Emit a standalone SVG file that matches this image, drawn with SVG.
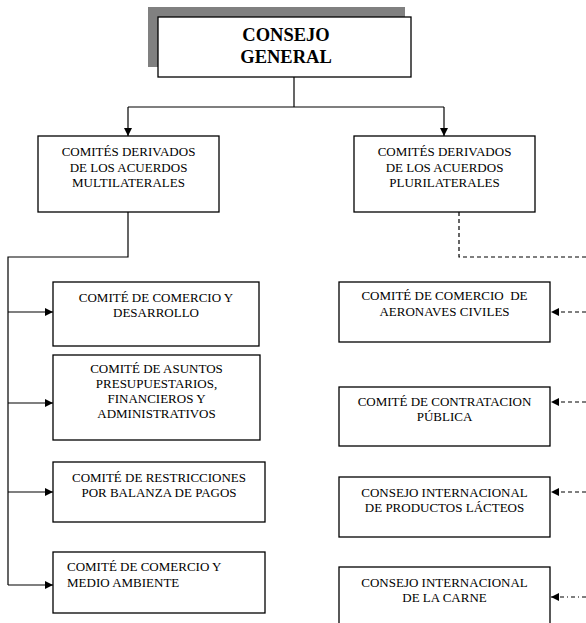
<svg xmlns="http://www.w3.org/2000/svg" width="586" height="623" viewBox="0 0 586 623">
<defs>
<style>
.box{fill:#fff;stroke:#000;stroke-width:1.3}
.t{font-family:"Liberation Serif","Times New Roman",serif;font-size:13px;fill:#000;text-anchor:middle}
.tl{font-family:"Liberation Serif","Times New Roman",serif;font-size:13px;fill:#000}
.title{font-family:"Liberation Serif","Times New Roman",serif;font-size:18.5px;font-weight:bold;fill:#000;text-anchor:middle}
.ln{fill:none;stroke:#000;stroke-width:1.2}
.dash{fill:none;stroke:#000;stroke-width:1.2;stroke-dasharray:4,3}
.dashdot{fill:none;stroke:#000;stroke-width:1.2;stroke-dasharray:4,3,1,3}
</style>
<marker id="arr" viewBox="0 0 10 10" refX="10" refY="5" markerWidth="8" markerHeight="8" markerUnits="userSpaceOnUse" orient="auto">
<path d="M0,0 L10,5 L0,10 z" fill="#000"/>
</marker>
</defs>
<g id="connectors">
<path class="ln" d="M294,77 V107"/>
<path class="ln" d="M128,107 H444"/>
<path class="ln" d="M128,107 V136" marker-end="url(#arr)"/>
<path class="ln" d="M444,107 V136" marker-end="url(#arr)"/>
<path class="ln" d="M128,212 V257 H8 V585"/>
<path class="ln" d="M8,312 H53" marker-end="url(#arr)"/>
<path class="ln" d="M8,403 H53" marker-end="url(#arr)"/>
<path class="ln" d="M8,492 H53" marker-end="url(#arr)"/>
<path class="ln" d="M8,585 H53" marker-end="url(#arr)"/>
<path class="dash" d="M459,212 V257 H586"/>
<path class="dash" d="M586,312 H551" marker-end="url(#arr)"/>
<path class="dash" d="M586,402 H551" marker-end="url(#arr)"/>
<path class="dash" d="M586,492 H551" marker-end="url(#arr)"/>
<path class="dashdot" d="M586,597 H551" marker-end="url(#arr)"/>
</g>
<g id="consejo-general">
<rect x="148" y="7" width="257" height="60" fill="#808080"/>
<rect class="box" x="158" y="17" width="253" height="60"/>
<text class="title" x="286" y="41">CONSEJO</text>
<text class="title" x="286" y="63">GENERAL</text>
</g>
<g id="multilaterales">
<rect class="box" x="38" y="136" width="181" height="76"/>
<text class="t" x="128.5" y="156">COMITÉS DERIVADOS</text>
<text class="t" x="128.5" y="172">DE LOS ACUERDOS</text>
<text class="t" x="128.5" y="187">MULTILATERALES</text>
</g>
<g id="plurilaterales">
<rect class="box" x="354" y="136" width="181" height="76"/>
<text class="t" x="444.5" y="156">COMITÉS DERIVADOS</text>
<text class="t" x="444.5" y="172">DE LOS ACUERDOS</text>
<text class="t" x="444.5" y="187">PLURILATERALES</text>
</g>
<g id="comercio-desarrollo">
<rect class="box" x="53" y="282" width="206" height="64"/>
<text class="t" x="156" y="302">COMITÉ DE COMERCIO Y</text>
<text class="t" x="156" y="317">DESARROLLO</text>
</g>
<g id="asuntos-presupuestarios">
<rect class="box" x="53" y="355" width="207" height="85"/>
<text class="t" x="156.5" y="373">COMITÉ DE ASUNTOS</text>
<text class="t" x="156.5" y="388">PRESUPUESTARIOS,</text>
<text class="t" x="156.5" y="403">FINANCIEROS Y</text>
<text class="t" x="156.5" y="418">ADMINISTRATIVOS</text>
</g>
<g id="restricciones">
<rect class="box" x="53" y="462" width="212" height="60"/>
<text class="t" x="159" y="482">COMITÉ DE RESTRICCIONES</text>
<text class="t" x="159" y="497">POR BALANZA DE PAGOS</text>
</g>
<g id="medio-ambiente">
<rect class="box" x="53" y="552" width="212" height="61"/>
<text class="tl" x="67" y="571">COMITÉ DE COMERCIO Y</text>
<text class="tl" x="67" y="587">MEDIO AMBIENTE</text>
</g>
<g id="aeronaves">
<rect class="box" x="339" y="282" width="211" height="60"/>
<text class="t" x="444.5" y="300" xml:space="preserve">COMITÉ DE COMERCIO  DE</text>
<text class="t" x="444.5" y="316">AERONAVES CIVILES</text>
</g>
<g id="contratacion">
<rect class="box" x="339" y="387" width="211" height="59"/>
<text class="t" x="444.5" y="406">COMITÉ DE CONTRATACION</text>
<text class="t" x="444.5" y="421">PÚBLICA</text>
</g>
<g id="lacteos">
<rect class="box" x="339" y="477" width="211" height="60"/>
<text class="t" x="444.5" y="497">CONSEJO INTERNACIONAL</text>
<text class="t" x="444.5" y="512">DE PRODUCTOS LÁCTEOS</text>
</g>
<g id="carne">
<rect class="box" x="339" y="567" width="211" height="70"/>
<text class="t" x="444.5" y="587">CONSEJO INTERNACIONAL</text>
<text class="t" x="444.5" y="602">DE LA CARNE</text>
</g>
</svg>
